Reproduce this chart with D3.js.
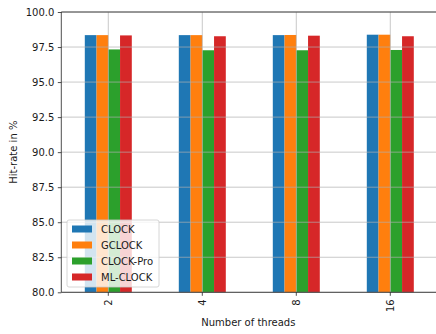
<!DOCTYPE html>
<html>
<head>
<meta charset="utf-8">
<script src="https://cdn.jsdelivr.net/npm/d3@7"></script>
<style>
  body { margin: 0; background: #fff; }
  text { font-family: "DejaVu Sans", sans-serif; fill: #1a1a1a; }
</style>
</head>
<body>
<div id="chart"></div>
<script>
var threads = ["2", "4", "8", "16"];
var series = ["CLOCK", "GCLOCK", "CLOCK-Pro", "ML-CLOCK"];
var clock = [98.35, 98.35, 98.35, 98.38];
var gclock = [98.35, 98.35, 98.36, 98.38];
var clockPro = [97.33, 97.27, 97.27, 97.29];
var mlClock = [98.33, 98.27, 98.31, 98.27];
var yTicks = [80.0, 82.5, 85.0, 87.5, 90.0, 92.5, 95.0, 97.5, 100.0];
var colors = ["#1f77b4", "#ff7f0e", "#2ca02c", "#d62728"];

var values = [clock, gclock, clockPro, mlClock];

var width = 436, height = 334;
var pLeft = 61.3, pRight = 437.3, pTop = 12, pBottom = 292.3;

var svg = d3.select("#chart").append("svg")
  .attr("width", width)
  .attr("height", height);

var x = d3.scaleBand().domain(threads).range([pLeft, pRight]).padding(0);
var groupW = x.bandwidth() * 0.5;
var x1 = d3.scaleBand().domain(series).range([-groupW / 2, groupW / 2]).padding(0);
var y = d3.scaleLinear().domain([80, 100]).range([pBottom, pTop]);

// bars
series.forEach(function(s, si) {
  svg.append("g").selectAll("rect")
    .data(values[si])
    .enter().append("rect")
      .attr("x", function(d, i) { return x(threads[i]) + x.bandwidth() / 2 + x1(s); })
      .attr("y", function(d) { return y(d); })
      .attr("width", x1.bandwidth())
      .attr("height", function(d) { return pBottom - y(d); })
      .attr("fill", colors[si]);
});

// grid (drawn over bars like the original)
var grid = svg.append("g").attr("stroke", "#b0b0b0").attr("stroke-width", 0.8).attr("opacity", 0.85);
grid.selectAll(".hg").data(yTicks).enter().append("line")
  .attr("x1", pLeft).attr("x2", pRight)
  .attr("y1", function(d) { return y(d); }).attr("y2", function(d) { return y(d); });
grid.selectAll(".vg").data(threads).enter().append("line")
  .attr("x1", function(d) { return x(d) + x.bandwidth() / 2; })
  .attr("x2", function(d) { return x(d) + x.bandwidth() / 2; })
  .attr("y1", pTop).attr("y2", pBottom);

// axes
var yAxis = svg.append("g")
  .attr("transform", "translate(" + pLeft + ",0)")
  .call(d3.axisLeft(y).tickValues(yTicks).tickFormat(d3.format(".1f")).tickSize(3.5).tickPadding(3.5));
var xAxis = svg.append("g")
  .attr("transform", "translate(0," + pBottom + ")")
  .call(d3.axisBottom(x).tickSize(3.5).tickPadding(3.5));

[yAxis, xAxis].forEach(function(a) {
  a.select(".domain").remove();
  a.selectAll("line").attr("stroke", "#222").attr("stroke-width", 0.8);
  a.selectAll("text").style("font-size", "10px").attr("fill", "#1a1a1a");
});

xAxis.selectAll("text")
  .attr("transform", "rotate(-90)")
  .attr("text-anchor", "end")
  .attr("x", -7)
  .attr("y", 0)
  .attr("dy", "0.35em");

// spines (right one falls just past the canvas edge)
var sp = svg.append("g").attr("stroke", "#222").attr("stroke-width", 0.8);
sp.append("line").attr("x1", pLeft).attr("x2", pLeft).attr("y1", pTop).attr("y2", pBottom);
sp.append("line").attr("x1", pLeft).attr("x2", pRight).attr("y1", pBottom).attr("y2", pBottom);
sp.append("line").attr("x1", pLeft).attr("x2", pRight).attr("y1", pTop).attr("y2", pTop);

// labels
svg.append("text")
  .attr("x", (pLeft + pRight) / 2 - 1)
  .attr("y", 326)
  .attr("text-anchor", "middle")
  .style("font-size", "10px")
  .text("Number of threads");
svg.append("text")
  .attr("transform", "translate(17," + ((pTop + pBottom) / 2) + ") rotate(-90)")
  .attr("text-anchor", "middle")
  .style("font-size", "10px")
  .text("Hit-rate in %");

// legend
var lg = svg.append("g").attr("transform", "translate(67,220)");
lg.append("rect")
  .attr("width", 92).attr("height", 67).attr("rx", 2)
  .attr("fill", "#fff").attr("fill-opacity", 0.8)
  .attr("stroke", "#cccccc").attr("stroke-width", 0.8);
series.forEach(function(s, i) {
  lg.append("rect")
    .attr("x", 5).attr("y", 5.5 + i * 16)
    .attr("width", 20).attr("height", 7)
    .attr("fill", colors[i]);
  lg.append("text")
    .attr("x", 34).attr("y", 9 + i * 16)
    .attr("dy", "0.35em")
    .style("font-size", "10px")
    .text(s);
});
</script>
</body>
</html>
